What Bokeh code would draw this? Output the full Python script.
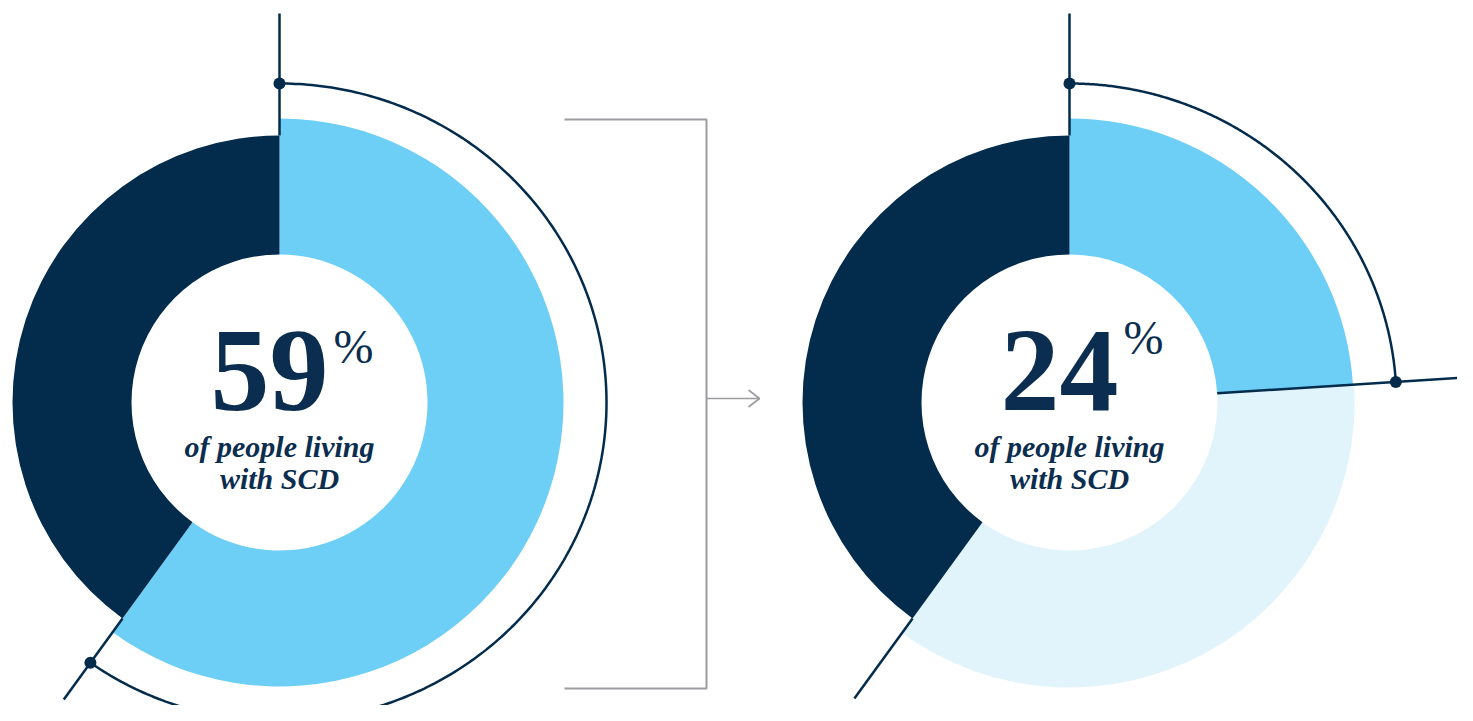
import numpy as np
from bokeh.plotting import figure
from bokeh.models import Range1d, ColumnDataSource
from bokeh.core.properties import value
from bokeh.embed import file_html
from bokeh.resources import INLINE

# ---------------- data ----------------
left_labels = ["People living with SCD", "Others"]
left_shares = [60, 40]            # drawn extent of the slices (percent)
right_labels = ["Subgroup", "Rest of SCD group", "Others"]
right_shares = [24, 36, 40]
headline_values = ["59", "24"]
headline_suffix = "%"
subtitle_lines = ["of people living", "with SCD"]

# ---------------- style / layout ----------------
NAVY = "#022b4c"
SKY = "#6dcff6"
PALE = "#e1f3fb"
GRAY = "#9c9ba0"
TXT = "#0b2d4f"

W, H = 1457, 705
PAGE_H = 721


def Y(ref_y):
    return PAGE_H - ref_y


CENTERS = [(279, Y(402)), (1069, Y(402))]
R_IN = 148
R_OUT_DARK = 267
R_OUT_LIGHT = 284
ARC_RX, ARC_RY = 327, 319

p = figure(width=W, height=H, output_backend="svg", toolbar_location=None,
           x_range=Range1d(0, W), y_range=Range1d(PAGE_H - H, PAGE_H),
           x_axis_type=None, y_axis_type=None, min_border=0)
p.grid.visible = False
p.outline_line_color = None
p.background_fill_color = "white"
p.border_fill_color = "white"


def ang(frac):
    """clockwise-from-top fraction -> bokeh angle"""
    return np.pi / 2 - 2 * np.pi * frac


def polar(cx, cy, theta, r):
    return cx + r * np.sin(theta), cy + r * np.cos(theta)


def ell_r(theta):
    return 1.0 / np.sqrt((np.sin(theta) / ARC_RX) ** 2 + (np.cos(theta) / ARC_RY) ** 2)


def donut(cx, cy, shares, colors, outers):
    tot = float(sum(shares))
    cum = np.concatenate([[0], np.cumsum(shares)]) / tot
    src = ColumnDataSource(dict(
        x=[cx] * len(shares), y=[cy] * len(shares),
        start=[ang(a) for a in cum[:-1]], end=[ang(b) for b in cum[1:]],
        outer=outers, color=colors))
    p.annular_wedge(x="x", y="y", inner_radius=R_IN, outer_radius="outer",
                    start_angle="start", end_angle="end", direction="clock",
                    fill_color="color", line_color=None, source=src)
    return cum


# ---------- left donut ----------
cxL, cyL = CENTERS[0]
cumL = donut(cxL, cyL, left_shares, [SKY, NAVY], [R_OUT_LIGHT, R_OUT_DARK])
# ---------- right donut ----------
cxR, cyR = CENTERS[1]
cumR = donut(cxR, cyR, right_shares, [SKY, PALE, NAVY],
             [R_OUT_LIGHT, R_OUT_LIGHT + 1, R_OUT_DARK])

# outer bracket arcs (ellipse) with dots
for (cx, cy), frac in [((cxL, cyL), cumL[1]), ((cxR, cyR), cumR[1])]:
    t = np.linspace(0, 2 * np.pi * frac, 300)
    r = ell_r(t)
    xs, ys = polar(cx, cy, t, r)
    p.line(xs, ys, line_color=NAVY, line_width=2.5)
    dx, dy = polar(cx, cy, np.array([0.0, t[-1]]), ell_r(np.array([0.0, t[-1]])))
    p.scatter(dx, dy, size=12, marker="circle", fill_color=NAVY, line_color=None)

# radial boundary lines: (center, fraction, r0, r1)
rad_lines = [
    ((cxL, cyL), 0.0, R_OUT_DARK, 389),
    ((cxL, cyL), cumL[1], R_OUT_DARK, 367),
    ((cxR, cyR), 0.0, R_OUT_DARK, 389),
    ((cxR, cyR), cumR[1], R_IN, 397),
    ((cxR, cyR), cumR[2], R_OUT_DARK, 366),
]
x0s, y0s, x1s, y1s = [], [], [], []
for (cx, cy), frac, r0, r1 in rad_lines:
    th = 2 * np.pi * frac
    a, b = polar(cx, cy, th, r0)
    c, d = polar(cx, cy, th, r1)
    x0s.append(a); y0s.append(b); x1s.append(c); y1s.append(d)
p.segment(x0=x0s, y0=y0s, x1=x1s, y1=y1s, line_color=NAVY, line_width=2.5)

# gray bracket + arrow
BX0, BX1, BY0, BY1 = 564, 706, 119, 688
p.line([BX0, BX1, BX1, BX0], [Y(BY0), Y(BY0), Y(BY1), Y(BY1)],
       line_color=GRAY, line_width=2)
AY, AX1 = 398, 759
p.line([BX1, AX1], [Y(AY), Y(AY)], line_color=GRAY, line_width=1.6)
p.line([AX1 - 11, AX1, AX1 - 11], [Y(AY - 8.5), Y(AY), Y(AY + 8.5)],
       line_color=GRAY, line_width=1.6)

# center texts (baseline shift compensates bokeh's text box offset)
SHIFT = 0.35
NUM_SIZE, PCT_SIZE, SUB_SIZE = 118, 48, 30
pct_base = [363, 354]
for i, (cx, cy) in enumerate(CENTERS):
    p.text(x=[cx + 49], y=[Y(412 - SHIFT * NUM_SIZE)], text=[headline_values[i]],
           text_align="right", text_baseline="alphabetic",
           text_font=value("Liberation Serif"), text_font_size=f"{NUM_SIZE}px",
           text_font_style="bold", text_color=TXT)
    p.text(x=[cx + 54], y=[Y(pct_base[i] - SHIFT * PCT_SIZE)], text=[headline_suffix],
           text_align="left", text_baseline="alphabetic",
           text_font=value("Liberation Serif"), text_font_size=f"{PCT_SIZE}px",
           text_color=TXT)
    p.text(x=[cx, cx], y=[Y(456 - SHIFT * SUB_SIZE), Y(488 - SHIFT * SUB_SIZE)],
           text=subtitle_lines,
           text_align="center", text_baseline="alphabetic",
           text_font=value("Liberation Serif"), text_font_size=f"{SUB_SIZE}px",
           text_font_style="bold italic", text_color=TXT)

open("out.html", "w").write(file_html(p, INLINE))
